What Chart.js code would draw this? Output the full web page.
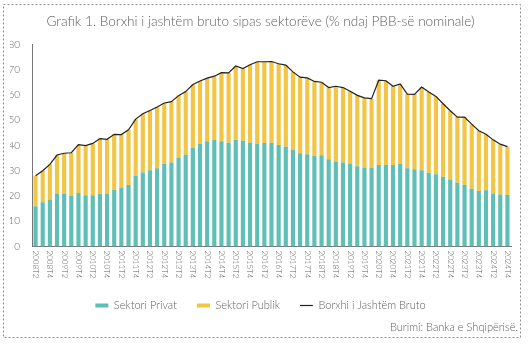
<!DOCTYPE html>
<html>
<head>
<meta charset="utf-8">
<script src="https://cdn.jsdelivr.net/npm/chart.js@4.4.0/dist/chart.umd.min.js"></script>
<style>
  html, body { margin: 0; padding: 0; background: #fff; }
  #wrap { position: relative; width: 528px; height: 345px; }
</style>
</head>
<body>
<div id="wrap"><canvas id="grafik" width="528" height="345"></canvas></div>
<script>
// te dhenat, lexuar nga grafiku (% e PBB-se nominale)
const kategorite = [
  "2008T2","2008T3","2008T4",
  "2009T1","2009T2","2009T3","2009T4",
  "2010T1","2010T2","2010T3","2010T4",
  "2011T1","2011T2","2011T3","2011T4",
  "2012T1","2012T2","2012T3","2012T4",
  "2013T1","2013T2","2013T3","2013T4",
  "2014T1","2014T2","2014T3","2014T4",
  "2015T1","2015T2","2015T3","2015T4",
  "2016T1","2016T2","2016T3","2016T4",
  "2017T1","2017T2","2017T3","2017T4",
  "2018T1","2018T2","2018T3","2018T4",
  "2019T1","2019T2","2019T3","2019T4",
  "2020T1","2020T2","2020T3","2020T4",
  "2021T1","2021T2","2021T3","2021T4",
  "2022T1","2022T2","2022T3","2022T4",
  "2023T1","2023T2","2023T3","2023T4",
  "2024T1","2024T2","2024T3","2024T4"
];

const sektoriPrivat = [
  15.9, 17.5, 18.6,
  21.0, 21.0, 20.0, 21.2,
  20.3, 20.3, 20.8, 21.0,
  22.5, 23.1, 24.3, 27.9,
  29.3, 30.2, 31.0, 32.6,
  33.2, 35.0, 36.3, 39.0,
  40.6, 41.6, 42.2, 41.6,
  41.1, 42.2, 41.8, 41.1,
  40.8, 41.0, 41.1, 40.2,
  39.5, 38.2, 36.9, 36.5,
  35.8, 36.1, 34.5, 33.6,
  33.2, 32.6, 31.8, 31.3,
  31.2, 32.2, 32.2, 32.2,
  32.6, 31.0, 30.6, 30.2,
  29.2, 28.6, 27.6, 26.5,
  25.2, 24.3, 22.9, 22.0,
  22.3, 21.0, 20.6, 20.4
];

const sektoriPublik = [
  12.1, 12.5, 13.9,
  15.2, 15.9, 17.1, 19.1,
  19.6, 20.5, 21.9, 21.4,
  21.9, 21.2, 21.9, 22.5,
  23.2, 23.6, 24.2, 24.2,
  24.1, 24.7, 25.0, 25.1,
  24.9, 25.0, 25.2, 27.2,
  27.6, 29.2, 28.6, 30.8,
  32.3, 32.1, 32.1, 32.1,
  32.3, 30.9, 30.1, 30.2,
  29.5, 28.9, 28.4, 29.8,
  29.7, 28.8, 28.0, 27.5,
  27.3, 33.6, 33.4, 31.2,
  31.7, 29.3, 29.6, 32.9,
  31.9, 30.8, 28.9, 27.2,
  26.0, 26.9, 25.5, 23.8,
  22.1, 21.2, 19.9, 19.1
];

const borxhiBruto = [
  28.0, 30.0, 32.5,
  36.2, 36.9, 37.1, 40.3,
  39.9, 40.8, 42.7, 42.4,
  44.4, 44.3, 46.2, 50.4,
  52.5, 53.8, 55.2, 56.8,
  57.3, 59.7, 61.3, 64.1,
  65.5, 66.6, 67.4, 68.8,
  68.7, 71.4, 70.4, 71.9,
  73.1, 73.1, 73.2, 72.3,
  71.8, 69.1, 67.0, 66.7,
  65.3, 65.0, 62.9, 63.4,
  62.9, 61.4, 59.8, 58.8,
  58.5, 65.8, 65.6, 63.4,
  64.3, 60.3, 60.2, 63.1,
  61.1, 59.4, 56.5, 53.7,
  51.2, 51.2, 48.4, 45.8,
  44.4, 42.2, 40.5, 39.5
];

const GRI = "#606060";
const FONTI = "Lato";

// korniza me vija te nderprera dhe burimi poshte djathtas
const kornizaPlugin = {
  id: "korniza",
  beforeDraw(chart) {
    const ctx = chart.ctx;
    ctx.save();
    ctx.strokeStyle = "#8c8c8c";
    ctx.lineWidth = 1;
    ctx.setLineDash([2, 2]);
    ctx.strokeRect(3.5, 4.5, 517, 333);
    ctx.restore();
  },
  afterDraw(chart) {
    const ctx = chart.ctx;
    ctx.save();
    ctx.fillStyle = GRI;
    ctx.font = "300 11px " + FONTI;
    ctx.textAlign = "right";
    ctx.textBaseline = "alphabetic";
    ctx.fillText("Burimi: Banka e Shqipërisë.", 518, 331);
    ctx.restore();
  }
};

// etiketat e boshtit x, vertikale (lexohen nga lart poshte), cdo e dyta
const etiketatX = {
  id: "etiketatX",
  afterDraw(chart) {
    const ctx = chart.ctx;
    const xs = chart.scales.x;
    ctx.save();
    ctx.fillStyle = GRI;
    ctx.font = "300 8px " + FONTI;
    ctx.textAlign = "left";
    ctx.textBaseline = "middle";
    kategorite.forEach((lbl, i) => {
      if (i % 2 !== 0) return;
      const x = xs.getPixelForValue(i);
      ctx.save();
      ctx.translate(x, xs.top + 4);
      ctx.rotate(Math.PI / 2);
      ctx.fillText(lbl, 0, 0);
      ctx.restore();
    });
    ctx.restore();
  }
};

new Chart(document.getElementById("grafik"), {
  data: {
    labels: kategorite,
    datasets: [
      {
        type: "bar",
        label: "Sektori Privat",
        data: sektoriPrivat,
        backgroundColor: "#5DBFB6",
        borderWidth: 0,
        stack: "sektoret",
        pointStyle: "rect",
        order: 1
      },
      {
        type: "bar",
        label: "Sektori Publik",
        data: sektoriPublik,
        backgroundColor: "#F3C544",
        borderWidth: 0,
        stack: "sektoret",
        pointStyle: "rect",
        order: 1
      },
      {
        type: "line",
        label: "Borxhi i Jashtëm Bruto",
        data: borxhiBruto,
        borderColor: "#222222",
        backgroundColor: "#222222",
        borderWidth: 1.2,
        pointRadius: 0,
        pointStyle: "line",
        tension: 0,
        stack: "totali",
        order: 0
      }
    ]
  },
  options: {
    responsive: false,
    animation: false,
    layout: { padding: { left: 10, right: 17, top: 0, bottom: 24 } },
    datasets: { bar: { barPercentage: 0.58, categoryPercentage: 1.0 } },
    scales: {
      x: {
        stacked: true,
        grid: { display: false },
        border: { display: true, color: "#777", dash: [2, 2] },
        ticks: { display: false },
        afterFit(scale) { scale.height = 33.5; }
      },
      y: {
        stacked: true,
        min: 0,
        max: 80,
        grid: { display: false },
        border: { display: true, color: "#777", dash: [2, 2] },
        ticks: { stepSize: 10, color: GRI, font: { family: FONTI, size: 10, weight: "300" }, padding: 4 },
        afterFit(scale) { scale.width = 22; }
      }
    },
    plugins: {
      title: {
        display: true,
        text: "Grafik 1. Borxhi i jashtëm bruto sipas sektorëve (% ndaj PBB-së nominale)",
        color: GRI,
        font: { family: FONTI, size: 13.6, weight: "300" },
        padding: { top: 13, bottom: 15 }
      },
      legend: {
        position: "bottom",
        labels: {
          usePointStyle: true,
          pointStyleWidth: 13,
          boxHeight: 4,
          padding: 20,
          color: GRI,
          font: { family: FONTI, size: 11, weight: "300" },
          sort: (a, b) => a.datasetIndex - b.datasetIndex
        }
      },
      tooltip: { enabled: false }
    }
  },
  plugins: [kornizaPlugin, etiketatX]
});
</script>
</body>
</html>
